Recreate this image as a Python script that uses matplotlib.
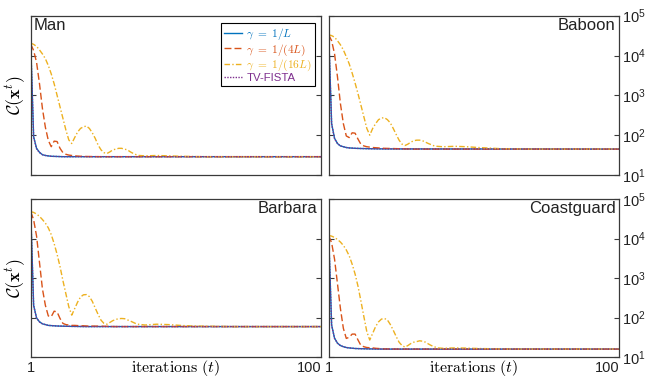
#!/usr/bin/env python3
"""
TV denoising: cost C(x^t) vs iterations for four test images.
Log-scale 2x2 panel figure, MATLAB-like styling.
"""

import matplotlib
matplotlib.use('Agg')
import matplotlib.pyplot as plt
import matplotlib.ticker as mticker
import numpy as np

# --- Theme ---
BLUE = '#0072BD'
RED = '#D95319'
YELLOW = '#EDB120'
PURPLE = '#7E2F8E'
AXIS = '#3a3a3a'

plt.rcParams['font.family'] = ['Liberation Sans', 'DejaVu Sans']
plt.rcParams['mathtext.fontset'] = 'cm'

W_PX, H_PX = 648, 379
DPI = 100

# --- Data (log10 of the cost) ---
ITERS_FAST = [1, 2, 3, 4, 5, 6, 7, 8, 10, 12, 15, 20, 100]
ITERS_MID = list(range(1, 21)) + [25, 30, 100]
ITERS_SLOW = list(range(1, 39)) + [40, 44, 48, 52, 56, 60, 70, 100]

MAN_FAST = [4.31, 1.96, 1.67, 1.57, 1.51, 1.49, 1.48, 1.47, 1.465, 1.46, 1.46, 1.46, 1.46]
MAN_MID = [4.29, 4.125, 3.83, 3.29, 2.67, 2.20, 1.87, 1.71, 1.85, 1.84, 1.67, 1.56,
           1.52, 1.50, 1.49, 1.48, 1.475, 1.47, 1.47, 1.465, 1.46, 1.46, 1.46]
MAN_SLOW = [4.31, 4.28, 4.23, 4.14, 4.04, 3.92, 3.75, 3.54, 3.29, 3.00, 2.71, 2.42,
            2.13, 1.88, 1.79, 1.94, 2.08, 2.17, 2.21, 2.23, 2.17, 2.06, 1.92, 1.75,
            1.63, 1.56, 1.54, 1.58, 1.63, 1.65, 1.67, 1.67, 1.65, 1.63, 1.58, 1.54,
            1.51, 1.49, 1.48, 1.49, 1.48, 1.47, 1.465, 1.46, 1.46, 1.46]
MAN_FISTA = [4.31, 1.95, 1.66, 1.56, 1.51, 1.49, 1.48, 1.47, 1.465, 1.46, 1.46, 1.46, 1.46]

BABOON_FAST = [4.52, 2.29, 1.92, 1.79, 1.73, 1.71, 1.69, 1.68, 1.67, 1.665, 1.66, 1.655, 1.65]
BABOON_MID = [4.52, 4.37, 4.04, 3.46, 2.79, 2.29, 1.98, 1.94, 2.06, 2.05, 1.90, 1.77,
              1.73, 1.71, 1.70, 1.69, 1.685, 1.68, 1.675, 1.67, 1.66, 1.65, 1.65]
BABOON_SLOW = [4.52, 4.50, 4.46, 4.37, 4.27, 4.14, 3.97, 3.79, 3.56, 3.31, 3.04, 2.75,
               2.46, 2.17, 2.00, 2.17, 2.29, 2.39, 2.43, 2.44, 2.39, 2.31, 2.17, 2.02,
               1.875, 1.775, 1.74, 1.775, 1.825, 1.86, 1.875, 1.875, 1.86, 1.825, 1.79, 1.76,
               1.73, 1.72, 1.71, 1.72, 1.71, 1.69, 1.675, 1.66, 1.65, 1.65]
BABOON_FISTA = [4.52, 2.28, 1.91, 1.79, 1.73, 1.71, 1.69, 1.68, 1.67, 1.665, 1.66, 1.655, 1.65]

BARBARA_FAST = [4.68, 2.31, 1.99, 1.89, 1.84, 1.82, 1.80, 1.795, 1.785, 1.78, 1.775, 1.77, 1.77]
BARBARA_MID = [4.68, 4.475, 4.06, 3.39, 2.725, 2.31, 2.04, 2.02, 2.16, 2.14, 1.975, 1.85,
               1.82, 1.81, 1.80, 1.80, 1.795, 1.79, 1.79, 1.785, 1.78, 1.77, 1.77]
BARBARA_SLOW = [4.68, 4.66, 4.62, 4.56, 4.48, 4.39, 4.27, 4.10, 3.87, 3.60, 3.29, 2.93,
                2.60, 2.27, 2.06, 2.225, 2.39, 2.52, 2.575, 2.58, 2.53, 2.41, 2.24, 2.075,
                1.93, 1.85, 1.83, 1.875, 1.92, 1.95, 1.97, 1.975, 1.97, 1.94, 1.91, 1.875,
                1.84, 1.825, 1.81, 1.83, 1.82, 1.80, 1.785, 1.78, 1.77, 1.77]
BARBARA_FISTA = [4.68, 2.30, 1.98, 1.89, 1.84, 1.82, 1.80, 1.795, 1.785, 1.78, 1.775, 1.77, 1.77]

COAST_FAST = [4.075, 1.81, 1.475, 1.35, 1.29, 1.26, 1.24, 1.23, 1.215, 1.21, 1.205, 1.20, 1.20]
COAST_MID = [4.075, 3.89, 3.475, 2.85, 2.225, 1.725, 1.47, 1.50, 1.58, 1.58, 1.43, 1.29,
             1.26, 1.24, 1.235, 1.23, 1.22, 1.215, 1.21, 1.205, 1.20, 1.20, 1.20]
COAST_SLOW = [4.075, 4.06, 4.025, 3.975, 3.91, 3.825, 3.71, 3.56, 3.35, 3.10, 2.79, 2.41,
              2.02, 1.64, 1.43, 1.60, 1.77, 1.89, 1.96, 1.975, 1.94, 1.825, 1.68, 1.52,
              1.375, 1.29, 1.25, 1.29, 1.34, 1.375, 1.39, 1.41, 1.40, 1.375, 1.33, 1.29,
              1.26, 1.23, 1.22, 1.23, 1.225, 1.215, 1.21, 1.20, 1.20, 1.20]
COAST_FISTA = [4.075, 1.80, 1.47, 1.35, 1.29, 1.26, 1.24, 1.23, 1.215, 1.21, 1.205, 1.20, 1.20]

PANEL_NAMES = ['Man', 'Baboon', 'Barbara', 'Coastguard']
LEGEND_LABELS = [r'$\gamma\ =\ 1/L$', r'$\gamma\ =\ 1/(4L)$', r'$\gamma\ =\ 1/(16L)$', 'TV-FISTA']

# axes boxes in pixels: (left, top, right, bottom)
BOXES = [(30.7, 15.7, 321, 175), (328.7, 15.7, 619, 175),
         (30.7, 199, 321, 357), (328.7, 199, 619, 357)]


def px_rect(box):
    l, t, r, b = box
    return [l / W_PX, 1 - b / H_PX, (r - l) / W_PX, (b - t) / H_PX]


def style_ax(ax, right_col, bottom_row):
    ax.set_yscale('log')
    ax.set_xlim(1, 100)
    ax.set_ylim(1e1, 1e5)
    ax.set_yticks([1e1, 1e2, 1e3, 1e4, 1e5])
    ax.yaxis.set_minor_locator(mticker.NullLocator())
    ax.set_xticks([1, 100], ['1', '100'])
    for s in ax.spines.values():
        s.set_color(AXIS)
        s.set_linewidth(0.9)
    ax.tick_params(axis='y', which='both', direction='in', left=True, right=True,
                   length=3.5, width=0.8, color=AXIS, labelleft=False,
                   labelright=right_col, labelsize=10.5, pad=2, labelcolor='#222222')
    ax.tick_params(axis='x', length=0, labelbottom=bottom_row, labelsize=10.5,
                   pad=3, labelcolor='#222222')
    if bottom_row:
        ax.get_xticklabels()[1].set_horizontalalignment('right')


def main():
    fig = plt.figure(figsize=(W_PX / DPI, H_PX / DPI), dpi=DPI)
    panels = [
        (MAN_FAST, MAN_MID, MAN_SLOW, MAN_FISTA),
        (BABOON_FAST, BABOON_MID, BABOON_SLOW, BABOON_FISTA),
        (BARBARA_FAST, BARBARA_MID, BARBARA_SLOW, BARBARA_FISTA),
        (COAST_FAST, COAST_MID, COAST_SLOW, COAST_FISTA),
    ]
    for i, (fast, mid, slow, fista) in enumerate(panels):
        ax = fig.add_axes(px_rect(BOXES[i]))
        right_col = i % 2 == 1
        bottom_row = i >= 2

        h1, = ax.plot(ITERS_FAST, np.power(10.0, fast), color=BLUE, lw=1.0)
        h2, = ax.plot(ITERS_MID, np.power(10.0, mid), color=RED, lw=1.0, dashes=(5, 2.2))
        h3, = ax.plot(ITERS_SLOW, np.power(10.0, slow), color=YELLOW, lw=1.0,
                      dashes=(4, 1.6, 1, 1.6))
        h4, = ax.plot(ITERS_FAST, np.power(10.0, fista), color=PURPLE, lw=1.0,
                      dashes=(1, 1))
        style_ax(ax, right_col, bottom_row)

        if i == 0:
            ax.text(0.01, 0.985, PANEL_NAMES[i], transform=ax.transAxes,
                    ha='left', va='top', fontsize=12, color='#222222')
            leg = ax.legend([h1, h2, h3, h4], LEGEND_LABELS, loc='upper right',
                            bbox_to_anchor=(0.979, 0.952), borderaxespad=0,
                            fontsize=8.2, labelcolor='linecolor', fancybox=False,
                            edgecolor='black', framealpha=1, handlelength=1.6,
                            handletextpad=0.4, labelspacing=0.0, borderpad=0.25)
            leg.get_frame().set_linewidth(0.8)
        else:
            ax.text(0.988, 0.985, PANEL_NAMES[i], transform=ax.transAxes,
                    ha='right', va='top', fontsize=12, color='#222222')

        if not right_col:
            ax.text(-0.05, 0.5, r'$\mathcal{C}(\mathbf{x}^t)$', transform=ax.transAxes,
                    rotation=90, ha='center', va='center', fontsize=13)
        if bottom_row:
            ax.text(0.5, -0.07, r'$\mathrm{iterations}\ (t)$', transform=ax.transAxes,
                    ha='center', va='center', fontsize=11.5)

    fig.savefig('out.png', dpi=DPI)
    plt.close(fig)


if __name__ == '__main__':
    main()
